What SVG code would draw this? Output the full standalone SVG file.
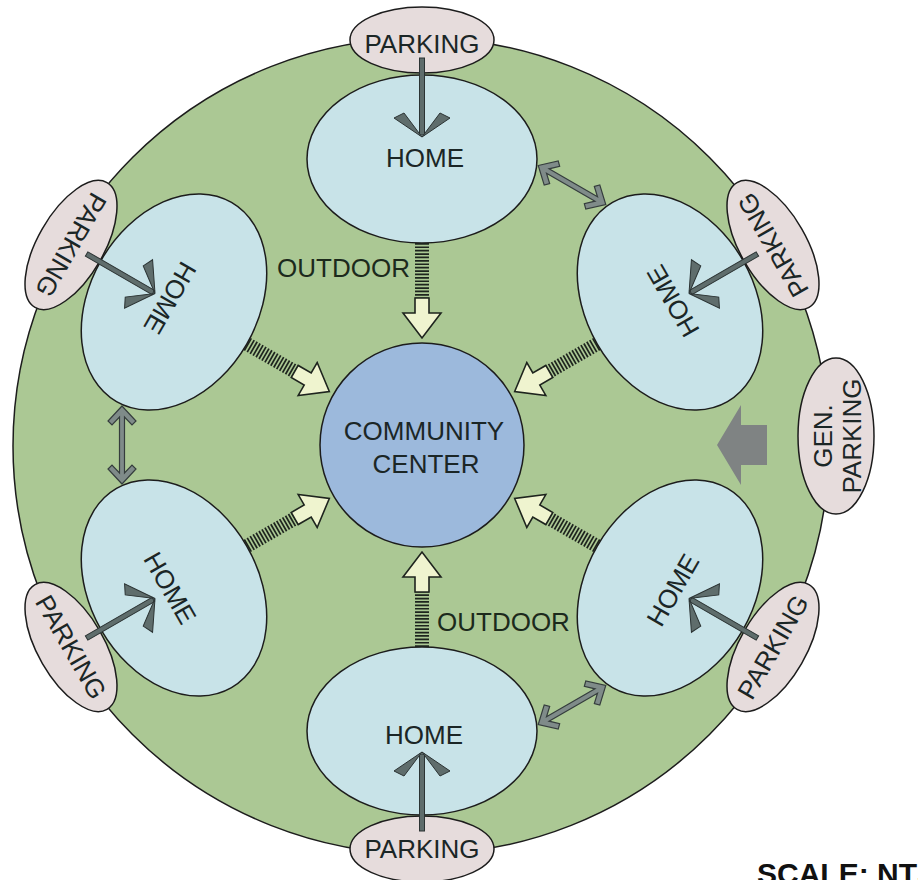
<svg xmlns="http://www.w3.org/2000/svg" width="918" height="880" viewBox="0 0 918 880">
<defs>
<style>
.site{fill:#abc894;stroke:#1c1c1c;stroke-width:1.5}
.home{fill:#c8e3e8;stroke:#1c1c1c;stroke-width:1.5}
.park{fill:#e6dcdc;stroke:#1c1c1c;stroke-width:1.5}
.cc{fill:#9cb9dc;stroke:#1c1c1c;stroke-width:1.5}
.t{font-family:"Liberation Sans",Arial,sans-serif;font-size:26px;fill:#1b2626;text-anchor:middle}
.od{font-family:"Liberation Sans",Arial,sans-serif;font-size:26px;fill:#1c2a1c}
.shaft{fill:#5f6d6c;stroke:#2b3333;stroke-width:1}
.barb{fill:#5f6d6c;stroke:#2b3333;stroke-width:1}
.dbl{fill:#7f8b89;stroke:#353d3d;stroke-width:1.2}
.hatch{stroke:#1e241e;stroke-width:14;stroke-dasharray:1.7 1.7}
.open{fill:#eff4cf;stroke:#1e241e;stroke-width:1.6}
</style>
<g id="parkArrow">
<rect class="shaft" x="0" y="-2.5" width="77" height="5"/>
<polygon class="barb" points="79,0 60,-28 55,-18"/>
<polygon class="barb" points="79,0 60,28 55,18"/>
</g>
<polygon id="dblArrow" class="dbl" points="-39,0 -24,-14 -20,-10 -28,-2.5 28,-2.5 20,-10 24,-14 39,0 24,14 20,10 28,2.5 -28,2.5 -20,10 -24,14"/>
<g id="outdoor">
<line class="hatch" x1="422" y1="243" x2="422" y2="298"/>
<polygon class="open" points="415,298 429,298 429,313 441,313 422,338 403,313 415,313"/>
</g>
</defs>

<g id="site">
<circle class="site" cx="421" cy="446" r="408"/>
</g>

<g id="community-center">
<circle class="cc" cx="422" cy="445" r="102"/>
<text class="t" x="424" y="440" font-size="25">COMMUNITY</text>
<text class="t" x="426" y="473" font-size="25">CENTER</text>
</g>

<g id="home-top">
<ellipse class="home" cx="422" cy="159" rx="115" ry="84"/>
<text class="t" x="425" y="167">HOME</text>
</g>
<g id="home-upper-right">
<ellipse class="home" cx="0" cy="0" rx="115" ry="84" transform="translate(670,302) rotate(60)"/>
<text class="t" x="0" y="9" transform="translate(673,301) rotate(-120)">HOME</text>
</g>
<g id="home-lower-right">
<ellipse class="home" cx="0" cy="0" rx="115" ry="84" transform="translate(670,588) rotate(120)"/>
<text class="t" x="0" y="9" transform="translate(673,590) rotate(-60)">HOME</text>
</g>
<g id="home-bottom">
<ellipse class="home" cx="422" cy="731" rx="115" ry="84"/>
<text class="t" x="424" y="744">HOME</text>
</g>
<g id="home-lower-left">
<ellipse class="home" cx="0" cy="0" rx="115" ry="84" transform="translate(174,588) rotate(60)"/>
<text class="t" x="0" y="9" transform="translate(170,588) rotate(60)">HOME</text>
</g>
<g id="home-upper-left">
<ellipse class="home" cx="0" cy="0" rx="115" ry="84" transform="translate(174,302) rotate(120)"/>
<text class="t" x="0" y="9" transform="translate(170,298) rotate(120)">HOME</text>
</g>

<g id="parking-top">
<ellipse class="park" cx="422" cy="40" rx="72" ry="33"/>
<text class="t" x="422" y="53">PARKING</text>
</g>
<g id="parking-upper-right">
<ellipse class="park" cx="0" cy="0" rx="72" ry="33" transform="translate(773,245) rotate(-120)"/>
<text class="t" x="0" y="9" transform="translate(773,245) rotate(-120)">PARKING</text>
</g>
<g id="parking-lower-right">
<ellipse class="park" cx="0" cy="0" rx="72" ry="33" transform="translate(773,647) rotate(-60)"/>
<text class="t" x="0" y="9" transform="translate(773,647) rotate(-60)">PARKING</text>
</g>
<g id="parking-bottom">
<ellipse class="park" cx="422" cy="849" rx="72" ry="33"/>
<text class="t" x="422" y="858">PARKING</text>
</g>
<g id="parking-lower-left">
<ellipse class="park" cx="0" cy="0" rx="72" ry="33" transform="translate(71,647) rotate(60)"/>
<text class="t" x="0" y="9" transform="translate(71,647) rotate(60)">PARKING</text>
</g>
<g id="parking-upper-left">
<ellipse class="park" cx="0" cy="0" rx="72" ry="33" transform="translate(71,245) rotate(120)"/>
<text class="t" x="0" y="9" transform="translate(71,245) rotate(120)">PARKING</text>
</g>
<g id="gen-parking">
<ellipse class="park" cx="836" cy="436" rx="38" ry="78"/>
<g transform="translate(836,436) rotate(-90)">
<text class="t" x="0" y="-4">GEN.</text>
<text class="t" x="0" y="25">PARKING</text>
</g>
</g>

<g id="connectors">
<use href="#parkArrow" transform="translate(422,58) rotate(90)"/>
<use href="#parkArrow" transform="translate(422,831) rotate(-90)"/>
<use href="#parkArrow" transform="translate(86.6,254) rotate(30)"/>
<use href="#parkArrow" transform="translate(86.6,638) rotate(-30)"/>
<use href="#parkArrow" transform="translate(757.4,254) rotate(150)"/>
<use href="#parkArrow" transform="translate(757.4,638) rotate(-150)"/>
<use href="#dblArrow" transform="translate(122,445) rotate(90)"/>
<use href="#dblArrow" transform="translate(572,185) rotate(30)"/>
<use href="#dblArrow" transform="translate(572,705) rotate(-30)"/>
<use href="#outdoor"/>
<use href="#outdoor" transform="rotate(60 422 445)"/>
<use href="#outdoor" transform="rotate(120 422 445)"/>
<use href="#outdoor" transform="rotate(180 422 445)"/>
<use href="#outdoor" transform="rotate(240 422 445)"/>
<use href="#outdoor" transform="rotate(300 422 445)"/>
<polygon fill="#7f8383" points="717,445 741,405 741,425 767,425 767,465 741,465 741,485"/>
</g>

<g id="labels">
<text class="od" x="410" y="277" text-anchor="end">OUTDOOR</text>
<text class="od" x="437" y="631">OUTDOOR</text>
<text x="757" y="884" font-family="'Liberation Sans',Arial,sans-serif" font-size="30" font-weight="bold" fill="#111">SCALE: NTS</text>
</g>
</svg>
